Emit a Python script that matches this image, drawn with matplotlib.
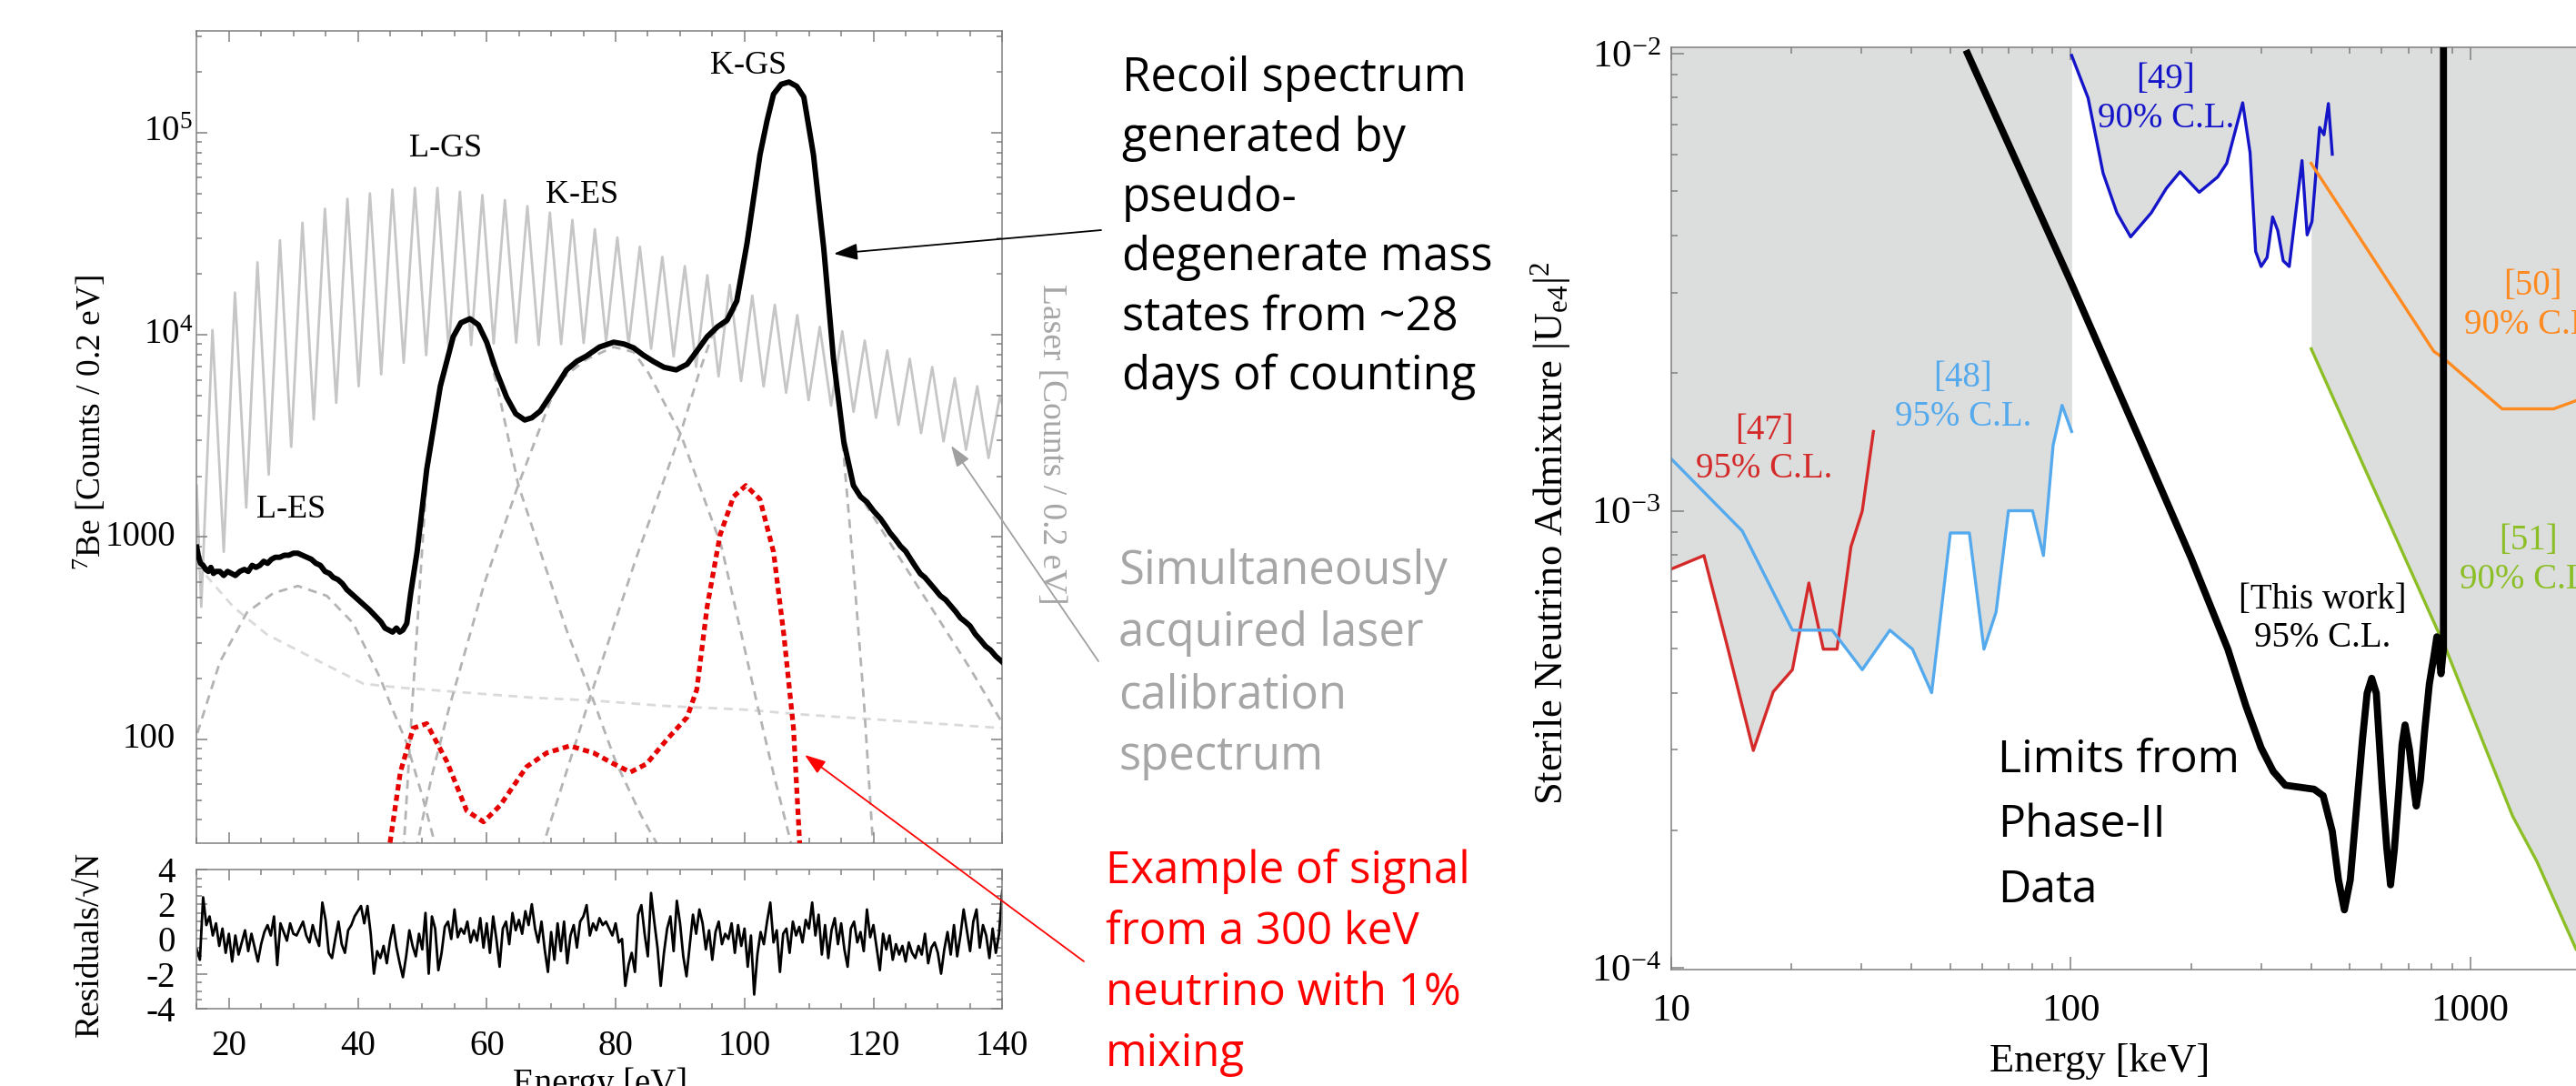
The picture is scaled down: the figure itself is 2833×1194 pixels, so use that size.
"""
Two-panel figure: 7Be recoil spectrum with laser calibration (left) and
sterile-neutrino admixture limits vs. energy (right), with slide annotations.
"""

import numpy as np
import matplotlib
matplotlib.use("Agg")
import matplotlib.pyplot as plt
import matplotlib.ticker as mticker
from matplotlib.patches import FancyArrowPatch

# ── canvas ─────────────────────────────────────────────────────────────────────
W, H = 2833, 1194
DPI = 100

plt.rcParams["font.family"] = ["Liberation Serif", "DejaVu Serif"]
plt.rcParams["mathtext.fontset"] = "custom"
plt.rcParams["mathtext.rm"] = "Liberation Serif"
plt.rcParams["mathtext.it"] = "Liberation Serif:italic"
plt.rcParams["mathtext.bf"] = "Liberation Serif:bold"
SANS = ["Open Sans", "DejaVu Sans"]

SPINE_COLOR = "#808080"
FILL_GRAY   = "#dcdddd"

# ── left panel data (energies in eV, counts as log10) ────
SPEC_E = [15.0, 15.3, 15.6, 16.0, 16.4, 16.8, 17.2, 17.6, 18.0, 18.6,
          19.2, 19.8, 20.4, 21.0, 21.7, 22.4, 23.0, 23.6, 24.2, 24.8,
          25.4, 26.0, 26.6, 27.2, 27.9, 28.6, 29.3, 30.0, 30.7, 31.4,
          32.1, 32.8, 33.5, 34.2, 34.9, 35.6, 36.2, 36.9, 37.6, 38.3,
          39.0, 39.7, 40.4, 41.1, 41.8, 42.4, 43.0, 43.6, 44.2, 44.8,
          45.4, 46.0, 46.5, 47.0, 47.6, 48.2, 49.2, 50.7, 52.8, 54.8,
          56.0, 57.4, 58.7, 60.0, 61.5, 63.1, 64.5, 65.9, 67.0, 68.3,
          70.3, 72.4, 74.0, 75.5, 77.5, 79.7, 81.3, 82.8, 84.3, 85.9,
          87.5, 89.4, 91.1, 92.6, 94.2, 95.8, 97.3, 98.8, 100.4, 102.4,
          103.5, 104.5, 105.7, 106.9, 108.1, 109.2, 110.7, 112.3, 113.8, 115.4,
          116.9, 118.0, 119.0, 120.0, 121.1, 122.0, 122.6, 123.4, 124.2, 125.0,
          125.6, 126.4, 127.3, 128.0, 128.8, 129.6, 130.4, 131.2, 132.0, 132.8,
          133.5, 134.3, 135.0, 135.8, 136.6, 137.4, 138.2, 139.0, 140.0]
SPEC_LOG = [2.95, 2.90, 2.87, 2.86, 2.84, 2.83, 2.85, 2.82, 2.83, 2.83,
            2.81, 2.83, 2.82, 2.81, 2.83, 2.84, 2.83, 2.86, 2.85, 2.86,
            2.88, 2.87, 2.89, 2.90, 2.90, 2.91, 2.91, 2.92, 2.92, 2.91,
            2.90, 2.89, 2.87, 2.86, 2.83, 2.82, 2.80, 2.79, 2.77, 2.74,
            2.72, 2.70, 2.68, 2.66, 2.64, 2.62, 2.60, 2.58, 2.55, 2.54,
            2.53, 2.55, 2.53, 2.54, 2.573, 2.72, 2.927, 3.336, 3.746, 3.991,
            4.06, 4.08, 4.05, 3.964, 3.82, 3.691, 3.61, 3.579, 3.59, 3.623,
            3.72, 3.827, 3.87, 3.896, 3.94, 3.964, 3.955, 3.936, 3.90, 3.868,
            3.84, 3.827, 3.855, 3.92, 3.991, 4.04, 4.073, 4.168, 4.455, 4.891,
            5.06, 5.191, 5.24, 5.251, 5.23, 5.177, 4.891, 4.427, 3.882, 3.473,
            3.255, 3.20, 3.173, 3.13, 3.091, 3.05, 3.02, 2.99, 2.955, 2.93,
            2.90, 2.86, 2.818, 2.80, 2.77, 2.74, 2.709, 2.69, 2.66, 2.63,
            2.60, 2.58, 2.56, 2.52, 2.491, 2.46, 2.44, 2.41, 2.382]

# laser comb: peak tops and valley bottoms
LASER_PEAK_E = [17.45, 20.94, 24.43, 27.92, 31.41, 34.90, 38.39, 41.88, 45.37, 48.86,
                52.35, 55.84, 59.33, 62.82, 66.31, 69.80, 73.29, 76.78, 80.27, 83.76,
                87.25, 90.74, 94.23, 97.72, 101.21, 104.70, 108.19, 111.68, 115.17, 118.66,
                122.15, 125.64, 129.13, 132.62, 136.11, 139.60]
LASER_PEAK_LOG = [4.024, 4.209, 4.359, 4.468, 4.555, 4.624, 4.673, 4.700, 4.719, 4.727,
                  4.727, 4.708, 4.692, 4.667, 4.637, 4.605, 4.569, 4.523, 4.482, 4.436,
                  4.386, 4.340, 4.295, 4.247, 4.194, 4.149, 4.098, 4.040, 4.018, 3.972,
                  3.923, 3.882, 3.841, 3.786, 3.746, 3.691]
LASER_VALLEY_E = [15.0, 15.71, 19.20, 22.69, 26.18, 29.67, 33.16, 36.65, 40.14, 43.63, 47.12,
                  50.61, 54.10, 57.59, 61.08, 64.57, 68.06, 71.55, 75.04, 78.53, 82.02,
                  85.51, 89.00, 92.49, 95.98, 99.47, 102.96, 106.45, 109.94, 113.43, 116.92,
                  120.41, 123.90, 127.39, 130.88, 134.37, 137.86, 140.0]
LASER_VALLEY_LOG = [3.255, 2.655, 2.927, 3.146, 3.309, 3.446, 3.582, 3.664, 3.746, 3.805, 3.862,
                    3.900, 3.930, 3.950, 3.958, 3.962, 3.950, 3.955, 3.960, 3.968, 3.950,
                    3.932, 3.894, 3.842, 3.795, 3.772, 3.745, 3.714, 3.677, 3.650, 3.620,
                    3.590, 3.555, 3.514, 3.473, 3.432, 3.391, 3.66]

# fitted components (gray dashed)
L_ES_E   = [15.1, 18.6, 22.8, 26.9, 30.7, 35.2, 39.3, 40.9, 43.5, 45.4, 47.6, 50.0, 52.5]
L_ES_LOG = [2.03, 2.382, 2.627, 2.723, 2.758, 2.709, 2.573, 2.47, 2.30, 2.147, 1.98, 1.72, 1.42]
L_GS_E   = [47.1, 48.4, 49.6, 50.7, 52.8, 54.8, 56.0, 57.4, 58.7, 60.0, 61.6, 64.9, 69.1,
            72.5, 76.2, 80.0, 84.0, 87.0]
L_GS_LOG = [1.45, 2.147, 2.747, 3.30, 3.72, 3.975, 4.05, 4.075, 4.04, 3.95, 3.753, 3.258,
            2.853, 2.53, 2.223, 1.89, 1.62, 1.45]
K_ES_E   = [49.0, 51.5, 54.1, 59.7, 64.9, 71.0, 75.5, 79.7, 82.8, 85.1, 90.06, 96.4,
            102.05, 104.5, 107.5]
K_ES_LOG = [1.45, 1.82, 2.147, 2.777, 3.258, 3.767, 3.88, 3.94, 3.915, 3.812, 3.512, 2.957,
            2.162, 1.83, 1.45]
K_GS_E   = [68.5, 76.2, 83.2, 90.06, 93.1, 95.0, 97.3, 98.8, 100.4, 102.4, 104.5, 105.7,
            106.9, 108.1, 109.2, 110.7, 112.3, 113.8, 115.4, 116.9, 118.5, 120.0]
K_GS_LOG = [1.45, 2.223, 2.897, 3.512, 3.827, 4.0, 4.06, 4.14, 4.45, 4.89, 5.19, 5.24,
            5.25, 5.23, 5.177, 4.89, 4.427, 3.88, 3.40, 2.85, 2.2, 1.45]
TAIL_E   = [115.5, 116.9, 120.0, 125.0, 130.0, 135.0, 140.0]
TAIL_LOG = [3.45, 3.255, 3.10, 2.85, 2.60, 2.35, 2.08]
BKG_E    = [15.0, 15.5, 20.7, 25.9, 34.2, 40.9, 46.6, 67.3, 76.2, 88.0, 99.7, 108.7, 140.0]
BKG_LOG  = [2.87, 2.845, 2.654, 2.518, 2.382, 2.274, 2.255, 2.205, 2.192, 2.164, 2.147,
            2.123, 2.055]

# 300 keV, 1% mixing example signal (red dotted)
SIG_E   = [45.0, 46.6, 48.6, 50.7, 53.8, 56.9, 59.5, 62.1, 66.2, 69.3, 72.9, 76.6, 79.7,
           82.3, 84.8, 88.0, 91.1, 92.6, 94.2, 96.2, 98.3, 100.2, 102.4, 104.5, 106.1,
           107.6, 108.7]
SIG_LOG = [1.488, 1.837, 2.055, 2.077, 1.891, 1.646, 1.591, 1.673, 1.864, 1.932, 1.967,
           1.932, 1.878, 1.837, 1.878, 2.0, 2.109, 2.246, 2.655, 3.009, 3.20, 3.255,
           3.187, 2.927, 2.518, 2.055, 1.40]

# residuals / sqrt(N), one value every 0.5 eV from 15 to 140 eV
RESIDUALS = [
    -0.6, -1.2, 2.4, 0.8, 1.3, 0.2, 0.9, -0.4, 0.6, -0.8,
    0.3, -1.3, 0.2, -0.9, -0.2, 0.5, -0.7, 0.3, -0.5, -1.3,
    -0.3, 0.4, 0.8, 0.2, 1.3, -1.5, 0.9, 0.4, -0.1, 0.9,
    0.3, 0.2, 0.6, 1.0, 0.2, -0.2, 0.8, 0.1, -0.4, 2.1,
    1.1, -0.8, -1.1, 0.0, 1.0, -0.3, -0.8, 0.5, 0.8, 1.3,
    1.6, 1.9, 0.9, 1.9, 0.3, -2.0, -0.7, -1.1, -0.4, -1.4,
    -0.1, 0.8, -0.5, -1.4, -2.2, -1.0, 0.5, -0.4, -1.0, 0.3,
    -0.6, 1.5, -2.0, 1.3, 0.6, -1.8, -0.8, 0.7, 1.0, 0.0,
    1.7, 0.1, 0.6, 0.3, 1.0, -0.2, 0.5, -0.1, 1.2, -0.5,
    0.9, -0.8, 1.3, 0.0, -1.6, 0.6, 1.0, -0.3, 1.5, 0.5,
    1.1, 0.3, 1.6, 0.8, 2.0, 0.6, -0.2, 1.0, -0.6, -1.9,
    0.4, -1.2, 0.9, -0.7, 1.0, -1.4, 0.2, 0.8, -0.5, 1.0,
    1.3, 1.95, 0.2, 0.9, 0.5, 1.2, 0.8, 1.0, 0.6, 0.2,
    0.9, -0.2, 0.0, -2.7, -1.5, -0.8, -1.9, 1.4, 1.95, 0.3,
    -1.0, 2.65, 1.0, -0.5, -2.7, -0.8, 0.6, 1.3, -0.7, 2.2,
    0.9, -1.0, -2.15, -0.4, 1.4, 0.3, 1.7, 0.9, -0.6, 0.5,
    -1.2, 0.4, 1.0, -0.3, 0.3, 0.0, 0.9, -0.8, 0.8, -0.4,
    0.6, -1.6, 0.2, -3.2, -0.9, 0.4, -0.3, 1.0, 2.1, -0.2,
    0.5, -1.9, 0.3, 0.6, -0.8, 1.0, 0.2, 0.7, -0.2, 1.1,
    0.6, 2.1, 0.2, 1.4, -0.9, 0.8, -1.1, 0.5, 1.2, -0.3,
    0.9, -0.6, -1.6, 0.6, 1.0, -0.2, 0.4, -0.7, 1.7, 0.1,
    0.8, -0.5, -1.8, 0.3, -0.6, 0.2, -1.2, -0.3, -0.9, -0.4,
    -1.3, -0.2, -0.8, -1.1, -0.4, -0.9, 0.3, -1.4, -0.5, -0.2,
    -0.8, -2.0, -0.6, 0.4, -0.9, 0.8, -1.0, 0.2, 1.7, 0.5,
    -0.7, 1.0, 1.7, -0.5, 0.8, 0.2, -1.1, 0.6, -0.8, 0.3,
    2.8]
RES_E = np.linspace(15.0, 140.0, len(RESIDUALS))  # 0.5 eV bin grid

PEAK_LABELS = [("L-ES", 29.6, 1371), ("L-GS", 53.6, 8.3e4),
               ("K-ES", 74.8, 4.9e4), ("K-GS", 100.6, 2.15e5)]

SPEC_YTICKS = [100, 1000, 1e4, 1e5]
SPEC_YTICK_TEXT = ["100", "1000", "10$^{4}$", "10$^{5}$"]

# ── right panel data (energy in keV, |U_e4|^2) ─────────────────────────────────
R47_E = [10.0, 12.09, 13.83, 16.07, 18.03, 20.13, 22.13, 24.05, 26.03, 28.2, 30.1, 32.1]
R47_U = [7.45e-4, 7.98e-4, 5.06e-4, 2.99e-4, 4.02e-4, 4.49e-4, 6.95e-4, 4.98e-4,
         4.98e-4, 8.34e-4, 9.98e-4, 1.49e-3]
R48_E = [10.0, 15.08, 20.13, 25.3, 30.1, 35.3, 40.2, 44.9, 50.0, 55.8, 60.7, 65.1,
         69.9, 80.3, 85.5, 90.4, 95.2, 100.6]
R48_U = [1.30e-3, 9.03e-4, 5.48e-4, 5.48e-4, 4.49e-4, 5.48e-4, 4.98e-4, 4.0e-4,
         8.94e-4, 8.94e-4, 4.98e-4, 6.01e-4, 1.0e-3, 1.0e-3, 7.98e-4, 1.39e-3,
         1.70e-3, 1.49e-3]
R49_E = [100.6, 110.6, 120.6, 130.6, 141.3, 159.1, 173.6, 187.8, 209.8, 233.4, 245.8,
         269.5, 281.2, 290.4, 299.7, 310.2, 320.2, 329.8, 340.4, 352.4, 379.3, 390.7,
         401.8, 419.8, 430.5, 441.6, 451.6]
R49_U = [9.9e-3, 7.99e-3, 5.47e-3, 4.48e-3, 3.97e-3, 4.48e-3, 5.07e-3, 5.51e-3,
         4.97e-3, 5.37e-3, 5.75e-3, 7.8e-3, 6.07e-3, 3.69e-3, 3.42e-3, 3.58e-3,
         4.39e-3, 4.10e-3, 3.52e-3, 3.42e-3, 5.83e-3, 4.01e-3, 4.29e-3, 6.89e-3,
         6.64e-3, 7.77e-3, 6.02e-3]
R50_E = [399.8, 810.9, 854.6, 1201.6, 1616.0, 1839.0]
R50_U = [5.75e-3, 2.23e-3, 2.16e-3, 1.67e-3, 1.67e-3, 1.74e-3]
R51_E = [400.0, 533.0, 869.6, 1276.0, 1468.0, 1839.0]
R51_U = [2.26e-3, 1.29e-3, 4.98e-4, 2.15e-4, 1.71e-4, 1.1e-4]
THIS_E = [55.2, 100.0, 150.0, 200.0, 247.4, 274.6, 299.7, 321.4, 344.5, 406.7, 428.6,
          451.6, 468.0, 484.2, 501.0, 514.8, 537.8, 552.0, 566.8, 582.0, 602.6, 618.5,
          631.8, 646.0, 663.2, 675.0, 686.9, 705.0, 720.0, 732.8, 750.0, 769.5, 790.0,
          810.9, 825.0, 845.0, 857.0, 857.0]
THIS_U = [1.0e-2, 3.17e-3, 1.41e-3, 7.9e-4, 4.98e-4, 3.74e-4, 3.03e-4, 2.69e-4,
          2.51e-4, 2.46e-4, 2.38e-4, 1.99e-4, 1.56e-4, 1.34e-4, 1.56e-4, 2.05e-4,
          3.18e-4, 3.99e-4, 4.3e-4, 3.99e-4, 2.46e-4, 1.82e-4, 1.52e-4, 1.82e-4,
          2.46e-4, 3.08e-4, 3.40e-4, 2.99e-4, 2.53e-4, 2.26e-4, 2.57e-4, 3.32e-4,
          4.18e-4, 4.8e-4, 5.3e-4, 4.4e-4, 5.0e-4, 1.05e-2]

LIMIT_COLORS = {"47": "#d42a2a", "48": "#55aaee", "49": "#1414c8",
                "50": "#ff8a1f", "51": "#8cbf26", "this": "black"}
LIMIT_LABELS = [("[47]\n95% C.L.", 17.1, 1.36e-3, "47"),
                ("[48]\n95% C.L.", 53.8, 1.77e-3, "48"),
                ("[49]\n90% C.L.", 173.0, 7.94e-3, "49"),
                ("[50]\n90% C.L.", 1432.0, 2.81e-3, "50"),
                ("[51]\n90% C.L.", 1396.0, 7.8e-4, "51"),
                ("[This work]\n95% C.L.", 427.0, 5.8e-4, "this")]

# ── slide annotations (figure pixels) ──────────────────────────────────────────
RECOIL_LINES = ["Recoil spectrum", "generated by", "pseudo-", "degenerate mass",
                "states from ~28", "days of counting"]
LASER_LINES  = ["Simultaneously", "acquired laser", "calibration", "spectrum"]
SIGNAL_LINES = ["Example of signal", "from a 300 keV", "neutrino with 1%", "mixing"]
LIMITS_LINES = ["Limits from", "Phase-II", "Data"]


def fig_xy(x, y):
    """figure pixel (from top-left) -> figure fraction"""
    return x / W, 1 - y / H


def style_axes(ax, major_len, minor_len, size):
    for s in ax.spines.values():
        s.set_color(SPINE_COLOR)
        s.set_linewidth(1.1)
    ax.tick_params(which="both", direction="in", top=True, right=True,
                   color=SPINE_COLOR, width=1.1, labelsize=size)
    ax.tick_params(which="major", length=major_len)
    ax.tick_params(which="minor", length=minor_len)


def text_block(lines, x, y0, dy, color, size):
    for i, line in enumerate(lines):
        fx, fy = fig_xy(x, y0 + i * dy)
        fig.text(fx, fy, line, family=SANS, fontsize=size, color=color,
                 ha="left", va="center_baseline")


def arrow(x0, y0, x1, y1, color, lw, scale):
    fig.add_artist(FancyArrowPatch(
        fig_xy(x0, y0), fig_xy(x1, y1), transform=fig.transFigure,
        arrowstyle="-|>,head_length=1.0,head_width=0.35", mutation_scale=scale,
        color=color, lw=lw, shrinkA=0, shrinkB=0))


fig = plt.figure(figsize=(W / DPI, H / DPI), dpi=DPI)

# ──────────────────────────────────────────────────────────────────────────────
# LEFT — spectrum
# ──────────────────────────────────────────────────────────────────────────────
AX_LEFT_PX, AX_WIDTH_PX = 216.3, 886.0
ax_spec = fig.add_axes([AX_LEFT_PX / W, 1 - 926.7 / H, AX_WIDTH_PX / W, 892.4 / H])
ax_res = fig.add_axes([AX_LEFT_PX / W, 1 - 1108.7 / H, AX_WIDTH_PX / W, 152.7 / H])

laser = sorted(zip(LASER_PEAK_E + LASER_VALLEY_E, LASER_PEAK_LOG + LASER_VALLEY_LOG))
laser_e = [p[0] for p in laser]
laser_c = np.power(10.0, [p[1] for p in laser])
ax_spec.plot(laser_e, laser_c, color="#c6c6c6", lw=2.0, solid_joinstyle="round", zorder=1)

ax_spec.plot(BKG_E, np.power(10.0, BKG_LOG), color="#dadada", lw=2.0,
             dashes=(3.5, 2.6), zorder=1.2)
for comp_e, comp_log in [(L_ES_E, L_ES_LOG), (L_GS_E, L_GS_LOG), (K_ES_E, K_ES_LOG),
                         (K_GS_E, K_GS_LOG), (TAIL_E, TAIL_LOG)]:
    ax_spec.plot(comp_e, np.power(10.0, comp_log), color="#b3b3b3", lw=2.0,
                 dashes=(3.5, 2.6), zorder=1.5)

ax_spec.plot(SPEC_E, np.power(10.0, SPEC_LOG), color="black", lw=4.3,
             solid_joinstyle="round", zorder=3)
ax_spec.plot(SIG_E, np.power(10.0, SIG_LOG), color="#e60000", lw=3.8,
             dashes=(1.3, 0.9), zorder=4)

for label, ex, cy in PEAK_LABELS:
    ax_spec.text(ex, cy, label, ha="center", va="center", fontsize=26)

ax_spec.set_xlim(15, 140)
ax_spec.set_yscale("log")
ax_spec.set_ylim(30.7, 3.18e5)
style_axes(ax_spec, 8.3, 4.3, 28)
ax_spec.xaxis.set_major_locator(mticker.MultipleLocator(20))
ax_spec.xaxis.set_minor_locator(mticker.MultipleLocator(5))
ax_spec.yaxis.set_major_locator(mticker.FixedLocator(SPEC_YTICKS))
ax_spec.yaxis.set_minor_locator(mticker.LogLocator(base=10, subs=np.arange(2, 10),
                                                   numticks=20))
ax_spec.yaxis.set_minor_formatter(mticker.NullFormatter())
ax_spec.tick_params(labelbottom=False, labelleft=False)
# tick labels placed by hand: plain numbers sit further from the spine than 10^n
for val, lab in zip(SPEC_YTICKS, SPEC_YTICK_TEXT):
    right_px = 212 if "$" in lab else 193
    ax_spec.text((right_px - AX_LEFT_PX) / AX_WIDTH_PX, val, lab,
                 transform=ax_spec.get_yaxis_transform(), ha="right", va="center",
                 fontsize=28)

ax_res.plot(RES_E, RESIDUALS, color="black", lw=2.0)
ax_res.set_xlim(15, 140)
ax_res.set_ylim(-4, 4)
style_axes(ax_res, 8.3, 4.3, 28)
ax_res.xaxis.set_major_locator(mticker.MultipleLocator(20))
ax_res.xaxis.set_minor_locator(mticker.MultipleLocator(5))
ax_res.set_yticks([-4, -2, 0, 2, 4])
ax_res.set_yticklabels(["-4", "-2", "0", "2", "4"])
ax_res.yaxis.set_minor_locator(mticker.MultipleLocator(0.5))
ax_res.tick_params(axis="x", pad=17)
ax_res.tick_params(axis="y", pad=17)

fig.text(*fig_xy(99, 465), "$^{7}$Be [Counts / 0.2 eV]", rotation=90,
         ha="center", va="center", fontsize=27)
fig.text(*fig_xy(99, 1038), "Residuals/\u221aN", rotation=90,
         ha="center", va="center", fontsize=27)
fig.text(*fig_xy(660, 1192), "Energy [eV]", ha="center", va="center", fontsize=28)
fig.text(*fig_xy(1156, 488), "Laser [Counts / 0.2 eV]", rotation=270,
         ha="center", va="center", fontsize=27, color="#a6a6a6")

# ──────────────────────────────────────────────────────────────────────────────
# RIGHT — exclusion limits
# ──────────────────────────────────────────────────────────────────────────────
ax_lim = fig.add_axes([1837.7 / W, 1 - 1066.0 / H, 1318.5 / W, 1013.7 / H])
ax_lim.set_xscale("log")
ax_lim.set_yscale("log")
ax_lim.set_xlim(10, 1e4)
ax_lim.set_ylim(0.992e-4, 1.03e-2)

top = 1.2e-2
for fe, fu in [(R47_E, R47_U), (R48_E, R48_U), (R49_E, R49_U), (R51_E, R51_U)]:
    ax_lim.fill_between(fe, fu, top, color=FILL_GRAY, lw=0, zorder=0.5)

for key, le, lu in [("47", R47_E, R47_U), ("48", R48_E, R48_U), ("49", R49_E, R49_U),
                    ("50", R50_E, R50_U), ("51", R51_E, R51_U)]:
    ax_lim.plot(le, lu, color=LIMIT_COLORS[key], lw=2.4, zorder=2)
ax_lim.plot(THIS_E, THIS_U, color="black", lw=5.6, solid_joinstyle="round", zorder=3)

for label, ex, uy, key in LIMIT_LABELS:
    ax_lim.text(ex, uy, label, ha="center", va="center", fontsize=28,
                color=LIMIT_COLORS[key], zorder=4)

style_axes(ax_lim, 10, 5, 31)
ax_lim.xaxis.set_major_locator(mticker.FixedLocator([10, 100, 1000]))
ax_lim.xaxis.set_major_formatter(mticker.FixedFormatter(["10", "100", "1000"]))
ax_lim.yaxis.set_major_locator(mticker.FixedLocator([1e-4, 1e-3, 1e-2]))
ax_lim.yaxis.set_major_formatter(mticker.FixedFormatter(
    ["10$^{-4}$", "10$^{-3}$", "10$^{-2}$"]))
for axis in (ax_lim.xaxis, ax_lim.yaxis):
    axis.set_minor_locator(mticker.LogLocator(base=10, subs=np.arange(2, 10), numticks=20))
    axis.set_minor_formatter(mticker.NullFormatter())
ax_lim.tick_params(axis="x", pad=19)
ax_lim.tick_params(axis="y", pad=8)

fig.text(*fig_xy(1706, 586),
         "Sterile Neutrino Admixture |U$_{\\mathregular{e4}}$|$^{\\mathregular{2}}$",
         rotation=90, ha="center", va="center", fontsize=32)
fig.text(*fig_xy(2309, 1167), "Energy [keV]", ha="center", va="center", fontsize=32)

# ──────────────────────────────────────────────────────────────────────────────
# annotations
# ──────────────────────────────────────────────────────────────────────────────
text_block(RECOIL_LINES, 1234, 81, 65.5, "black", 36.5)
text_block(LASER_LINES, 1230, 623, 68, "#a6a6a6", 36.5)
text_block(SIGNAL_LINES, 1216, 952, 67, "#ff0000", 35.5)
text_block(LIMITS_LINES, 2197, 830, 71.5, "black", 36)

arrow(1211, 253, 917, 279, "black", 1.3, 16)
arrow(1208, 727, 1046, 490, "#a0a0a0", 1.3, 14)
arrow(1192, 1057, 885, 830, "#ff0000", 1.3, 14)

fig.savefig("out.png", dpi=DPI)
print("Saved: out.png")
